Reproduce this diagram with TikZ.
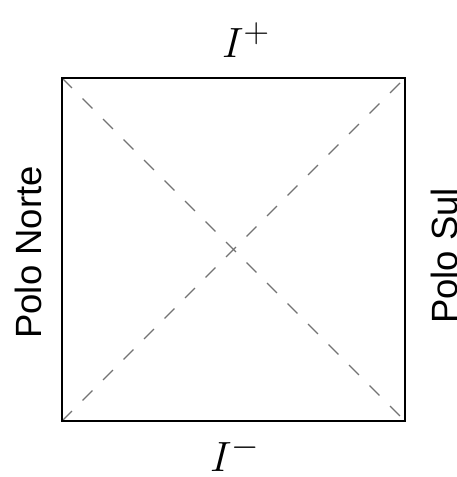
\documentclass[tikz,border=0pt]{standalone}
\usepackage{graphicx}
\usepackage{fontspec}
\newfontfamily\labelfont{Liberation Sans}
\begin{document}
\begin{tikzpicture}[x=1pt,y=1pt,
  frame/.style={draw=black,line width=2pt},
  horizon/.style={draw=black!55,line width=1.3pt,dash pattern=on 14pt off 15pt},
  polelabel/.style={font=\labelfont\fontsize{36.5}{42}\selectfont,inner sep=0pt,rotate=90},
  scrilabel/.style={font=\Huge,inner sep=0pt}]
\useasboundingbox (0,0) rectangle (456,477);
\fill[white] (0,0) rectangle (456,477);
\coordinate (bl) at (62,56);
\coordinate (br) at (405,56);
\coordinate (tr) at (405,399);
\coordinate (tl) at (62,399);
\draw[horizon] (tl) -- (br);
\draw[horizon] (bl) -- (tr);
\draw[frame] (bl) rectangle (tr);
\node[scrilabel] (iplus) at (246,437) {\scalebox{1.7}{$I^+$}};
\node[scrilabel] (iminus) at (235,23) {\scalebox{1.7}{$I^-$}};
\node[polelabel,anchor=south] (norte) at (42,224.5) {Polo Norte};
\node[polelabel,anchor=north] (sul) at (431,221) {Polo Sul};
\end{tikzpicture}
\end{document}
